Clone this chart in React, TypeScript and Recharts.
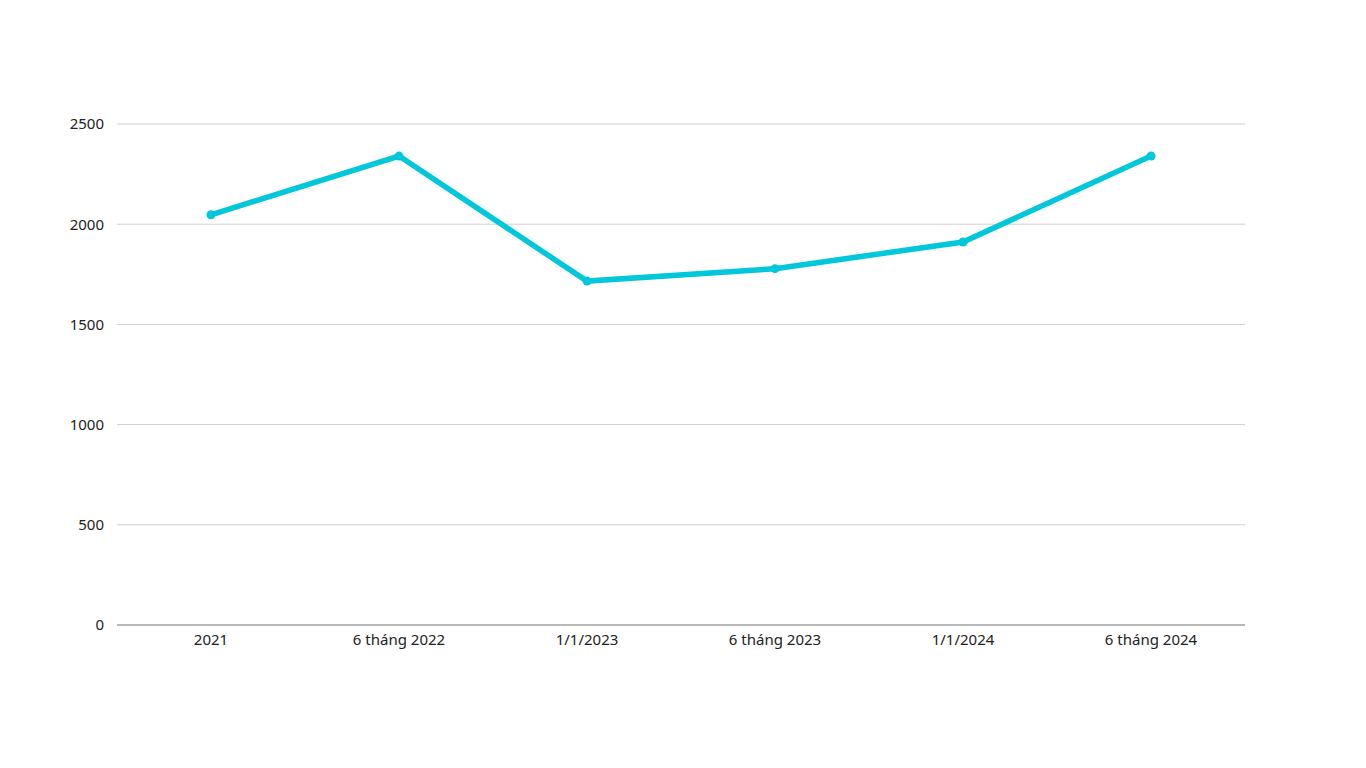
import { CartesianGrid, Line, LineChart, XAxis, YAxis } from "recharts";

const periods = ["2021", "6 tháng 2022", "1/1/2023", "6 tháng 2023", "1/1/2024", "6 tháng 2024"];
const values = [2047, 2340, 1716, 1778, 1911, 2340];
const yTicks = [0, 500, 1000, 1500, 2000, 2500];

const data = periods.map((period, i) => ({ period, value: values[i] }));

const tickStyle = { fontSize: 15, fill: "#222", fontFamily: "'Noto Sans', sans-serif" };

export default function App() {
  return (
    <div style={{ position: "fixed", left: 0, top: 0, background: "#fff" }}>
      <LineChart
        data={data}
        height={768}
        margin={{ top: 124, right: 121, bottom: 113, left: 0 }}
        width={1366}
      >
        <CartesianGrid stroke="#cfcfcf" vertical={false} />
        <XAxis
          axisLine={{ stroke: "#8a8a8a" }}
          dataKey="period"
          height={30}
          interval={0}
          padding={{ left: 94, right: 94 }}
          tick={tickStyle}
          tickLine={false}
          tickMargin={3}
        />
        <YAxis
          axisLine={false}
          domain={[0, 2500]}
          tick={tickStyle}
          tickLine={false}
          tickMargin={7}
          ticks={yTicks}
          width={117}
        />
        <Line
          dataKey="value"
          dot={{ r: 4.5, fill: "#00c8da", stroke: "#00c8da", strokeWidth: 0 }}
          isAnimationActive={false}
          stroke="#00c8da"
          strokeWidth={5.5}
          type="linear"
        />
      </LineChart>
    </div>
  );
}
